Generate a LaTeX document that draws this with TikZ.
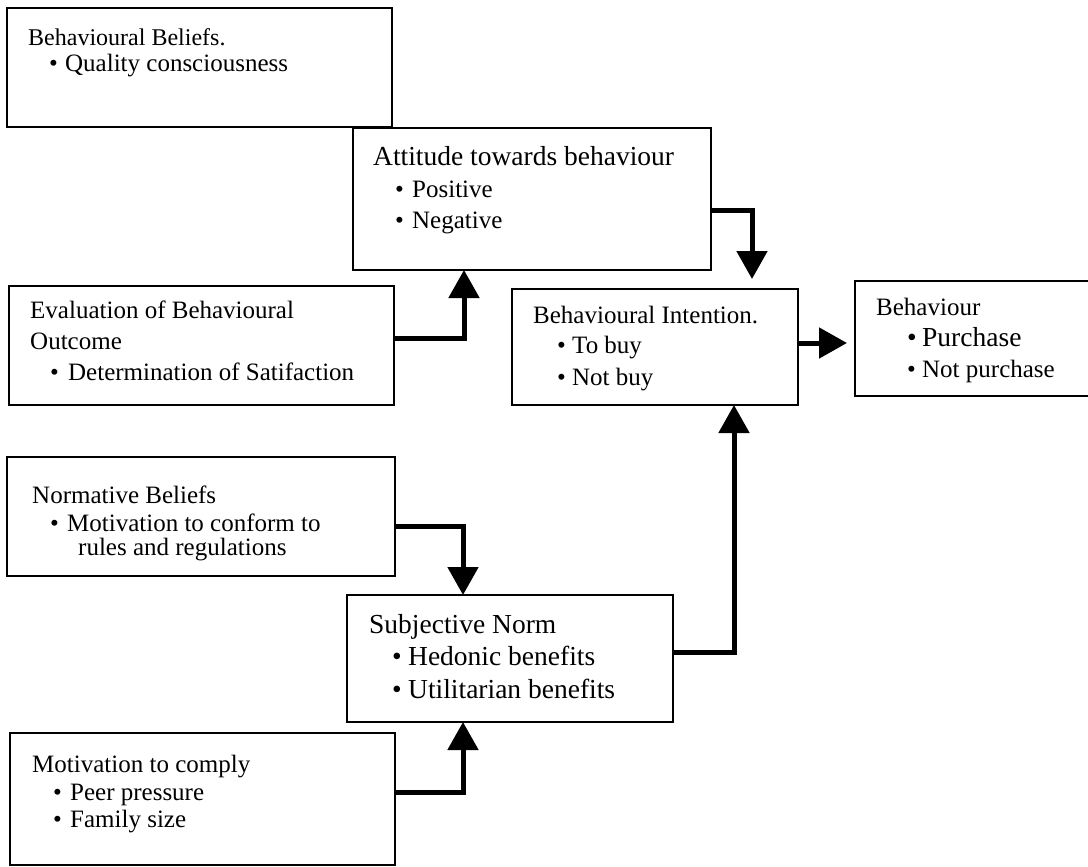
\documentclass[tikz,border=0pt]{standalone}
\usepackage{fontspec}
\setmainfont{Liberation Serif}
\usetikzlibrary{arrows.meta}
\newcommand{\bl}[2]{\makebox[#1pt][l]{\textbullet}#2}
\begin{document}
\begin{tikzpicture}[x=1pt,y=-1pt,
  box/.style={draw, line width=1.8pt, inner sep=0pt, outer sep=0pt, anchor=north west},
  txt/.style={anchor=base west, inner sep=0pt, font=\fontsize{25}{30}\selectfont},
  bigtxt/.style={anchor=base west, inner sep=0pt, font=\fontsize{27.5}{30}\selectfont},
  arr/.style={line width=5pt, -{Triangle[width=30pt,length=28pt]}}]
\useasboundingbox (0,0) rectangle (1088,867);
\clip (0,0) rectangle (1088,867);
\fill[white] (0,0) rectangle (1088,867);

% boxes
\node[box, minimum width=385pt, minimum height=119pt] (bb) at (7,8) {};
\node[box, minimum width=358pt, minimum height=142pt] (att) at (353,128) {};
\node[box, minimum width=385pt, minimum height=119pt] (ev) at (9,286) {};
\node[box, minimum width=286pt, minimum height=116pt] (bi) at (512,289) {};
\node[box, minimum width=250pt, minimum height=115pt] (beh) at (855,281) {};
\node[box, minimum width=388pt, minimum height=119pt] (nb) at (7,457) {};
\node[box, minimum width=326pt, minimum height=127pt] (sn) at (347,595) {};
\node[box, minimum width=385pt, minimum height=132pt] (mc) at (10,733) {};

% texts
\node[txt, font=\fontsize{24}{30}\selectfont] (bb1) at (28,46) {Behavioural Beliefs.};
\node[txt] (bb2) at (49,72) {\bl{16}{Quality consciousness}};

\node[bigtxt] (att1) at (373,165) {Attitude towards behaviour};
\node[txt] (att2) at (395,197) {\bl{17}{Positive}};
\node[txt] (att3) at (395,228) {\bl{17}{Negative}};

\node[txt] (ev1) at (30,318) {Evaluation of Behavioural};
\node[txt] (ev2) at (30,349) {Outcome};
\node[txt] (ev3) at (50,380) {\bl{18}{Determination of Satifaction}};

\node[txt] (bi1) at (533,323) {Behavioural Intention.};
\node[txt] (bi2) at (557,353) {\bl{15}{To buy}};
\node[txt] (bi3) at (557,385) {\bl{15}{Not buy}};

\node[txt] (beh1) at (876,315) {Behaviour};
\node[bigtxt] (beh2) at (907,346) {\bl{15}{Purchase}};
\node[txt] (beh3) at (907,377) {\bl{15}{Not purchase}};

\node[txt] (nb1) at (32,503) {Normative Beliefs};
\node[txt] (nb2) at (50,531) {\bl{17}{Motivation to conform to}};
\node[txt] (nb3) at (78,555) {rules and regulations};

\node[bigtxt] (sn1) at (369,633) {Subjective Norm};
\node[bigtxt] (sn2) at (392,665) {\bl{16}{Hedonic benefits}};
\node[bigtxt] (sn3) at (392,698) {\bl{16}{Utilitarian benefits}};

\node[txt] (mc1) at (32,772) {Motivation to comply};
\node[txt] (mc2) at (53,800) {\bl{17}{Peer pressure}};
\node[txt] (mc3) at (53,827) {\bl{17}{Family size}};

% connectors
\draw[arr] ([yshift=7.5pt]ev.east) -| ([xshift=-68pt]att.south);
\draw[arr, shorten >=10pt] ([yshift=-11pt]att.east) -| ([xshift=97pt]bi.north);
\coordinate (a3) at ([yshift=4pt]bi.east);
\draw[arr, shorten >=8pt] (a3) -- (a3 -| beh.west);
\draw[arr] ([yshift=-9.5pt]nb.east) -| ([xshift=-47pt]sn.north);
\draw[arr] ([yshift=6.5pt]sn.east) -| ([xshift=79pt]bi.south);
\draw[arr] ([yshift=7pt]mc.east) -| ([xshift=-47pt]sn.south);
\end{tikzpicture}
\end{document}
